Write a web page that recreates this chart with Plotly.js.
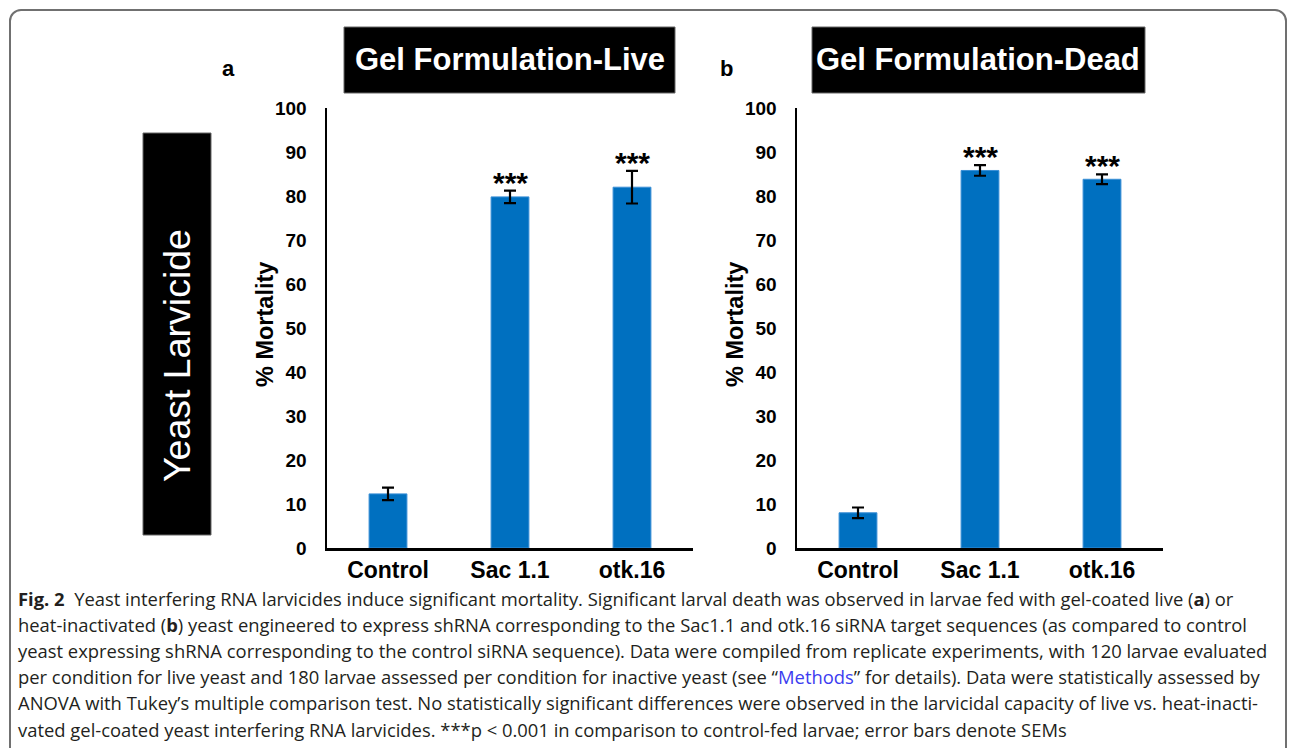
<!DOCTYPE html>
<html>
<head>
<meta charset="utf-8">
<script src="https://cdn.plot.ly/plotly-3.0.1.min.js"></script>
<style>
  html, body { margin: 0; padding: 0; background: #fff; }
  #wrap { position: relative; width: 1293px; height: 748px; overflow: hidden; }
  #frame { position: absolute; left: 9px; top: 9px; width: 1278px; height: 800px;
           border: 2px solid #707070; border-radius: 12px; box-sizing: border-box; }
  #chart { position: absolute; left: 0; top: 0; width: 1293px; height: 748px; }
</style>
</head>
<body>
<div id="wrap">
  <div id="frame"></div>
  <div id="chart"></div>
</div>
<script>
// ---- data ----
const categories = ["Control", "Sac 1.1", "otk.16"];
const liveMeans = [12.3, 79.8, 82.0];
const liveSems  = [1.4, 1.4, 3.7];
const deadMeans = [8.0, 85.8, 83.8];
const deadSems  = [1.2, 1.2, 1.1];
const liveSig = ["", "***", "***"];
const deadSig = ["", "***", "***"];
const yTicks = [0, 10, 20, 30, 40, 50, 60, 70, 80, 90, 100];
const panelTitles = ["Gel Formulation-Live", "Gel Formulation-Dead"];
const panelLetters = ["a", "b"];
const sideLabel = "Yeast Larvicide";
const yTitle = "% Mortality";
const captionLines = [
  "<b>Fig. 2</b>  Yeast interfering RNA larvicides induce significant mortality. Significant larval death was observed in larvae fed with gel-coated live (<b>a</b>) or",
  "heat-inactivated (<b>b</b>) yeast engineered to express shRNA corresponding to the Sac1.1 and otk.16 siRNA target sequences (as compared to control",
  "yeast expressing shRNA corresponding to the control siRNA sequence). Data were compiled from replicate experiments, with 120 larvae evaluated",
  "per condition for live yeast and 180 larvae assessed per condition for inactive yeast (see “<span style=\"color:#3c3cf0\">Methods</span>” for details). Data were statistically assessed by",
  "ANOVA with Tukey’s multiple comparison test. No statistically significant differences were observed in the larvicidal capacity of live vs. heat-inacti-",
  "vated gel-coated yeast interfering RNA larvicides. ***p &lt; 0.001 in comparison to control-fed larvae; error bars denote SEMs"
];

// ---- geometry helpers (pixels -> paper) ----
const W = 1293, H = 748;
const px = x => x / W;
const py = y => 1 - y / H;

const barColor = "#0070c0";
function barTrace(means, sems, xa, ya) {
  return {
    type: "bar", x: categories, y: means, xaxis: xa, yaxis: ya,
    width: 0.31,
    marker: { color: barColor, line: { color: "#3a8fd6", width: 1 } },
    error_y: { type: "data", array: sems, visible: true, color: "#000", thickness: 2.2, width: 6 },
    hoverinfo: "skip", showlegend: false
  };
}

const data = [
  barTrace(liveMeans, liveSems, "x", "y"),
  barTrace(deadMeans, deadSems, "x2", "y2")
];

const axisFont = { family: "Liberation Sans, Arial, sans-serif", size: 19, color: "#000", weight: 700 };
const catFont  = { family: "Liberation Sans, Arial, sans-serif", size: 23, color: "#000", weight: 700 };

function xAxis(dom) {
  return { domain: dom, type: "category", showline: true, linecolor: "#000", linewidth: 2.5,
           ticks: "", showgrid: false, zeroline: false, tickfont: catFont, fixedrange: true,
           ticklabelstandoff: 0 };
}
function yAxis(anchor) {
  return { domain: [py(548), py(108)], range: [0, 100], tickvals: yTicks, anchor: anchor,
           showline: true, linecolor: "#000", linewidth: 2.5, ticks: "", showgrid: false,
           zeroline: false, tickfont: axisFont, ticklabelstandoff: 14, fixedrange: true };
}

const annotations = [];
// panel titles, letters
const titleCenters = [510, 978];
panelTitles.forEach((t, i) => {
  annotations.push({ xref: "paper", yref: "paper", x: px(titleCenters[i]), y: py(60),
    text: t, showarrow: false, xanchor: "center", yanchor: "middle",
    font: { family: "Liberation Sans, Arial, sans-serif", size: 31, color: "#fff", weight: 700 } });
});
const letterX = [228, 727];
panelLetters.forEach((t, i) => {
  annotations.push({ xref: "paper", yref: "paper", x: px(letterX[i]), y: py(68),
    text: t, showarrow: false, xanchor: "center", yanchor: "middle",
    font: { family: "Liberation Sans, Arial, sans-serif", size: 22, color: "#000", weight: 700 } });
});
// y titles
const yTitleX = [265, 735];
yTitleX.forEach(xv => {
  annotations.push({ xref: "paper", yref: "paper", x: px(xv), y: py(325), text: yTitle,
    textangle: -90, showarrow: false, xanchor: "center", yanchor: "middle",
    font: { family: "Liberation Sans, Arial, sans-serif", size: 23.5, color: "#000", weight: 700 } });
});
// side label
annotations.push({ xref: "paper", yref: "paper", x: px(177), y: py(356), text: sideLabel,
  textangle: -90, showarrow: false, xanchor: "center", yanchor: "middle",
  font: { family: "Liberation Sans, Arial, sans-serif", size: 37.5, color: "#fff" } });
// significance stars
function stars(means, sems, sig, xa, ya) {
  categories.forEach((c, i) => {
    if (!sig[i]) return;
    annotations.push({ xref: xa, yref: ya, x: c, y: means[i] + sems[i], text: sig[i],
      showarrow: false, xanchor: "center", yanchor: "bottom", yshift: -10,
      font: { family: "Liberation Sans, Arial, sans-serif", size: 30, color: "#000", weight: 700 } });
  });
}
stars(liveMeans, liveSems, liveSig, "x", "y");
stars(deadMeans, deadSems, deadSig, "x2", "y2");
// caption
captionLines.forEach((t, i) => {
  annotations.push({ xref: "paper", yref: "paper", x: px(16), y: py(598 + i * 26.2), text: t,
    showarrow: false, xanchor: "left", yanchor: "middle", align: "left",
    font: { family: "Open Sans, sans-serif", size: 18.4, color: "#231f20" } });
});

const shapes = [
  { type: "rect", xref: "paper", yref: "paper", x0: px(344), x1: px(675), y0: py(93), y1: py(27),
    fillcolor: "#000", line: { color: "#666", width: 1 }, layer: "below" },
  { type: "rect", xref: "paper", yref: "paper", x0: px(812), x1: px(1145), y0: py(93), y1: py(27),
    fillcolor: "#000", line: { color: "#666", width: 1 }, layer: "below" },
  { type: "rect", xref: "paper", yref: "paper", x0: px(143), x1: px(211), y0: py(535), y1: py(133),
    fillcolor: "#000", line: { color: "#666", width: 1 }, layer: "below" }
];

const layout = {
  width: W, height: H, margin: { l: 0, r: 0, t: 0, b: 0 },
  paper_bgcolor: "rgba(0,0,0,0)", plot_bgcolor: "rgba(0,0,0,0)",
  showlegend: false, bargap: 0.69,
  xaxis: xAxis([px(327), px(693)]), yaxis: yAxis("x"),
  xaxis2: xAxis([px(797), px(1163)]), yaxis2: yAxis("x2"),
  annotations: annotations, shapes: shapes
};

Plotly.newPlot("chart", data, layout, { staticPlot: true, displayModeBar: false });
</script>
</body>
</html>
